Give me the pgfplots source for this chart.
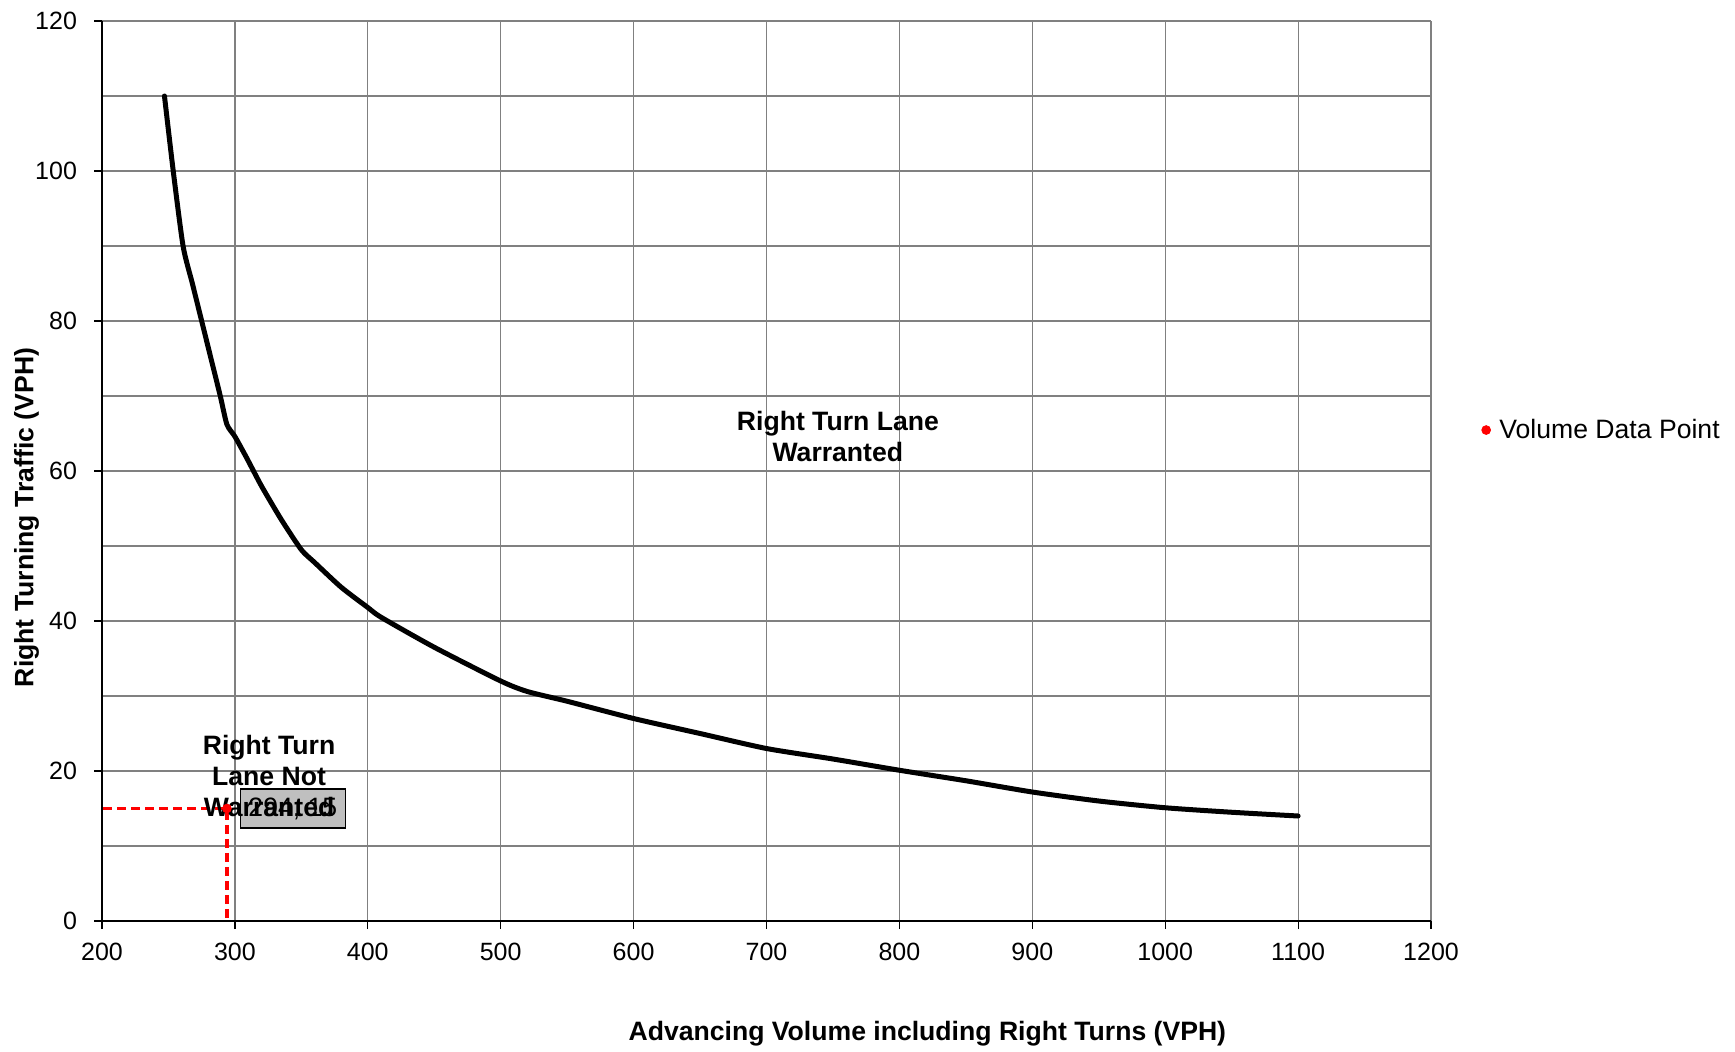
\documentclass[border=0pt]{standalone}
\usepackage{fontspec}
\setmainfont{Liberation Sans}
\usepackage{pgfplots}
\pgfplotsset{compat=1.18}
\begin{document}
\begin{tikzpicture}
\useasboundingbox (-51pt,-65pt) rectangle (816.5pt,460.5pt);
\begin{axis}[
  at={(0,0)}, anchor=south west, scale only axis,
  width=664.5pt, height=450pt,
  xmin=200, xmax=1200, ymin=0, ymax=120,
  xtick={200,300,...,1200}, ytick={0,20,...,120}, minor ytick={10,30,...,110},
  grid=both,
  grid style={gray, line width=0.6pt},
  minor grid style={gray, line width=0.6pt},
  axis x line=bottom, axis y line=left,
  axis line style={-, black, line width=0.8pt},
  tick align=outside, major tick length=4pt, minor tick length=0pt,
  tick style={black, line width=0.6pt},
  ticklabel style={font=\fontsize{12.5}{14}\selectfont},
  yticklabel style={xshift=-5pt},
  xticklabel style={yshift=-3.5pt},
  /pgf/number format/assume math mode=true,
  /pgf/number format/1000 sep={},
  clip=false,
  legend style={at={(1.0376,0.5455)}, anchor=west, draw=none, fill=none,
    font=\fontsize{13.3}{15}\selectfont, inner sep=0pt},
  legend image code/.code={\fill[red] (0,0) circle (2.2pt); \path (4.4pt,0);},
]
\addplot[black, line width=2.5pt, line cap=round, line join=round, smooth, tension=0.4, forget plot] coordinates {
(247,110) (253.6,100) (261,90) (268,85) (275,80) (282,75) (289,70) (294,66.2)
(300,64.6) (309,61.7) (320,58) (335,53.5) (350,49.5) (360,47.8) (380,44.5)
(400,41.8) (410,40.5) (450,36.5) (500,32) (520,30.6) (550,29.3) (600,27)
(650,25) (700,23) (750,21.6) (800,20.1) (850,18.7) (900,17.2) (950,16)
(1000,15.1) (1050,14.5) (1100,14)
};
\addplot[red, line width=1.6pt, dash pattern=on 4.5pt off 2.5pt, forget plot]
  coordinates {(201,15) (294,15) (294,0)};
\addplot[only marks, mark=*, mark size=2.2pt, red] coordinates {(294,15)};
\addlegendentry{Volume Data Point}
\node[fill=gray!50, draw=black, line width=0.6pt, minimum width=52.5pt, minimum height=19.5pt,
  inner sep=1pt, font=\fontsize{13.3}{15}\selectfont] at (axis cs:343.6,15) {294, 15};
\node[align=center, font=\fontsize{13.3}{15.3}\selectfont\bfseries] at (axis cs:753.7,64.6)
  {Right Turn Lane\\Warranted};
\node[align=center, font=\fontsize{13.3}{15.5}\selectfont\bfseries] at (axis cs:325.7,19.3)
  {Right Turn\\Lane Not\\Warranted};
\node[font=\fontsize{13.3}{15}\selectfont\bfseries] at (axis cs:821,-15)
  {Advancing Volume including Right Turns (VPH)};
\node[rotate=90, font=\fontsize{13.3}{15}\selectfont\bfseries] at (axis cs:143.3,53.8)
  {Right Turning Traffic (VPH)};
\end{axis}
\end{tikzpicture}
\end{document}
